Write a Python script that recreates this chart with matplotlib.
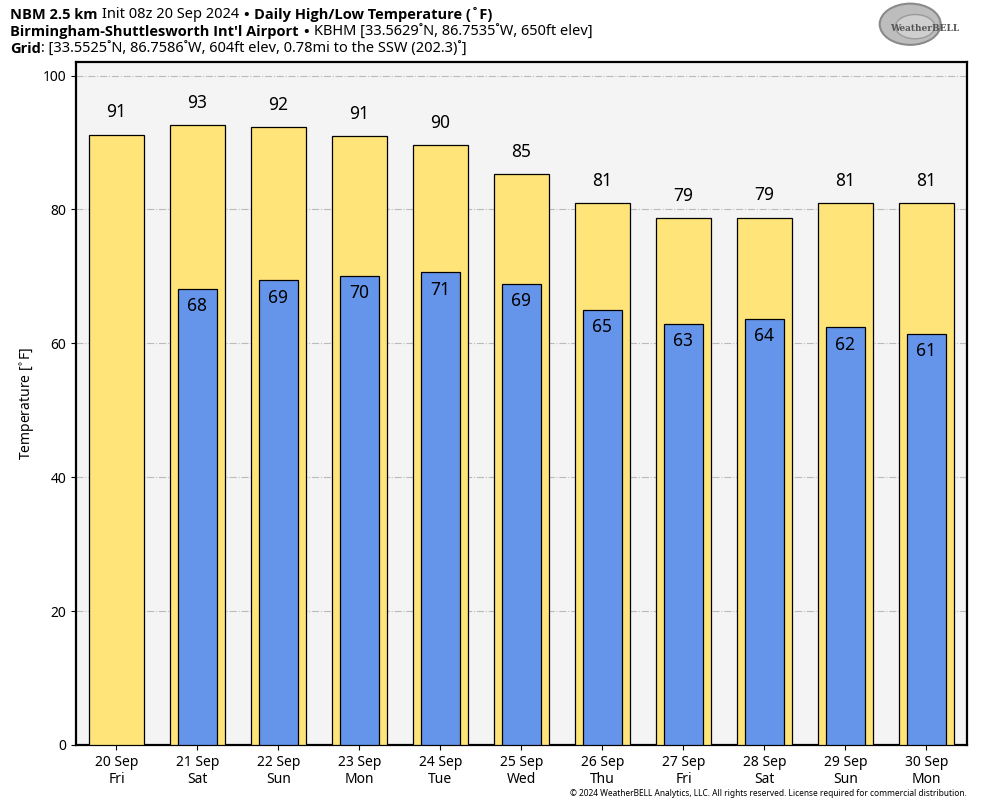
#!/usr/bin/env python3

import matplotlib
matplotlib.use('Agg')
import matplotlib.pyplot as plt
from matplotlib.patches import Ellipse

plt.rcParams['font.family'] = ['Noto Sans', 'DejaVu Sans']

dates = ['20 Sep', '21 Sep', '22 Sep', '23 Sep', '24 Sep', '25 Sep',
         '26 Sep', '27 Sep', '28 Sep', '29 Sep', '30 Sep']
days = ['Fri', 'Sat', 'Sun', 'Mon', 'Tue', 'Wed', 'Thu', 'Fri', 'Sat', 'Sun', 'Mon']
highs = [91.2, 92.6, 92.3, 91.0, 89.6, 85.3, 81.0, 78.7, 78.8, 81.0, 81.0]
lows = [None, 68.1, 69.4, 70.1, 70.6, 68.9, 65.0, 62.9, 63.7, 62.4, 61.4]

fig = plt.figure(figsize=(9.84, 8.08), dpi=100)
ax = fig.add_axes([0.0772, 0.078, 0.9055, 0.845])
ax.set_facecolor('#f4f4f4')

x = list(range(len(dates)))
ax.bar(x, highs, width=0.69, color='#ffe47a', edgecolor='black', linewidth=0.9, zorder=3)
for i, h in enumerate(highs):
    ax.annotate(str(round(h)), (i, h), xytext=(0, 16), textcoords='offset points',
                ha='center', va='center', fontsize=12.5, zorder=5)

lx = [i for i, v in enumerate(lows) if v is not None]
lv = [v for v in lows if v is not None]
ax.bar(lx, lv, width=0.49, color='#6595eb', edgecolor='black', linewidth=0.9, zorder=4)
for i, v in zip(lx, lv):
    ax.annotate(str(round(v)), (i, v), xytext=(0, -12.5), textcoords='offset points',
                ha='center', va='center', fontsize=12.5, zorder=5)

ax.set_xlim(-0.5, 10.5)
ax.set_ylim(0, 102)
ax.set_yticks([0, 20, 40, 60, 80, 100])
ax.set_xticks(x)
ax.set_xticklabels([d + '\n' + w for d, w in zip(dates, days)], fontsize=10)
ax.tick_params(axis='y', labelsize=10)
ax.grid(axis='y', color='#bbbbbb', linestyle='-.', linewidth=0.8, zorder=0)
for s in ax.spines.values():
    s.set_linewidth(1.6)
ax.set_ylabel('Temperature [$^{\\circ}$F]', fontsize=10)

# header lines, drawn piece by piece
renderer = fig.canvas.get_renderer()
def line(y, parts):
    xpos = 10
    for txt, bold, gap in parts:
        t = fig.text(xpos / 984, y, txt, fontsize=10.5, va='center',
                     family=['Open Sans', 'DejaVu Sans'] if bold else ['Noto Sans', 'DejaVu Sans'],
                     fontweight='bold' if bold else 'normal')
        bb = t.get_window_extent(renderer)
        xpos += bb.width + gap

line(0.982, [('NBM 2.5 km', True, 4), ('Init 08z 20 Sep 2024', False, 5), ('\u2022', True, 5),
             ('Daily High/Low Temperature (\u02daF)', True, 0)])
line(0.960, [('Birmingham-Shuttlesworth Int\u2032l Airport', True, 5), ('\u2022', True, 5),
             ('KBHM [33.5629\u02daN, 86.7535\u02daW, 650ft elev]', False, 0)])
line(0.939, [('Grid', True, 0),
             (': [33.5525\u02daN, 86.7586\u02daW, 604ft elev, 0.78mi to the SSW (202.3)\u02da]', False, 0)])

fig.text(0.982, 0.018,
         '\u00a9 2024 WeatherBELL Analytics, LLC. All rights reserved. License required for commercial distribution.',
         fontsize=6, ha='right', va='center')

# logo
lax = fig.add_axes([0.885, 0.94, 0.1, 0.06])
lax.set_xlim(0, 1)
lax.set_ylim(0, 1)
lax.axis('off')
lax.add_patch(Ellipse((0.4, 0.5), 0.62, 0.85, facecolor='#bdbdbd', edgecolor='#8a8a8a', linewidth=1.5))
lax.add_patch(Ellipse((0.45, 0.45), 0.4, 0.5, facecolor='#cfcfcf', edgecolor='#9a9a9a', linewidth=1))
lax.text(0.55, 0.42, 'WeatherBELL', fontsize=6.5, color='#555555', ha='center', va='center',
         fontweight='bold', family='DejaVu Serif')

fig.savefig('out.png', dpi=100)
